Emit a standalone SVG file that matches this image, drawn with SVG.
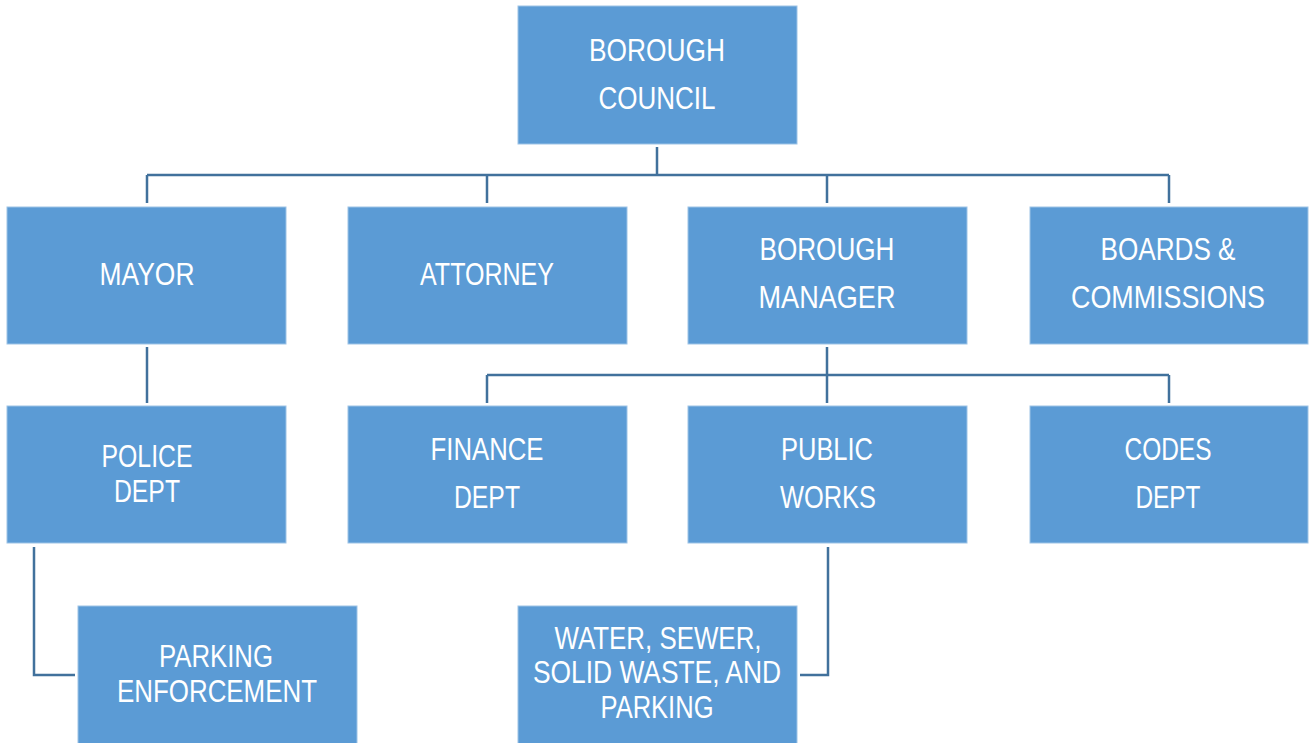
<svg xmlns="http://www.w3.org/2000/svg" width="1310" height="743" viewBox="0 0 1310 743">
<style>
.box{fill:#5B9BD5;stroke:#9DC3E6;stroke-width:1}
.t{font-family:"Liberation Sans",Arial,sans-serif;font-size:31px;fill:#FFFFFF;text-anchor:middle}
.c{fill:none;stroke:#41719C;stroke-width:2.5}
</style>
<rect width="1310" height="743" fill="#FFFFFF"/>
<g id="connectors">
<path class="c" d="M657,147V175M147,175H1169M147,175V203M487,175V203M827,175V203M1169,175V203"/>
<path class="c" d="M147,347V403"/>
<path class="c" d="M827,347V375M487,375H1169M487,375V403M827,375V403M1169,375V403"/>
<path class="c" d="M34,547V675H75"/>
<path class="c" d="M828,547V675H800"/>
</g>
<g id="borough-council"><rect class="box" x="518" y="6" width="279" height="138"/>
<text class="t" x="657" y="61" textLength="136" lengthAdjust="spacingAndGlyphs">BOROUGH</text>
<text class="t" x="657" y="109" textLength="117" lengthAdjust="spacingAndGlyphs">COUNCIL</text></g>
<g id="mayor"><rect class="box" x="7" y="207" width="279" height="137"/>
<text class="t" x="147" y="285" textLength="95" lengthAdjust="spacingAndGlyphs">MAYOR</text></g>
<g id="attorney"><rect class="box" x="348" y="207" width="279" height="137"/>
<text class="t" x="487" y="285" textLength="134" lengthAdjust="spacingAndGlyphs">ATTORNEY</text></g>
<g id="borough-manager"><rect class="box" x="688" y="207" width="279" height="137"/>
<text class="t" x="827" y="260" textLength="135" lengthAdjust="spacingAndGlyphs">BOROUGH</text>
<text class="t" x="827" y="308" textLength="137" lengthAdjust="spacingAndGlyphs">MANAGER</text></g>
<g id="boards"><rect class="box" x="1030" y="207" width="278" height="137"/>
<text class="t" x="1168" y="260" textLength="135" lengthAdjust="spacingAndGlyphs">BOARDS &amp;</text>
<text class="t" x="1168" y="308" textLength="194" lengthAdjust="spacingAndGlyphs">COMMISSIONS</text></g>
<g id="police"><rect class="box" x="7" y="406" width="279" height="137"/>
<text class="t" x="147" y="467" textLength="91" lengthAdjust="spacingAndGlyphs">POLICE</text>
<text class="t" x="147" y="502" textLength="66" lengthAdjust="spacingAndGlyphs">DEPT</text></g>
<g id="finance"><rect class="box" x="348" y="406" width="279" height="137"/>
<text class="t" x="487" y="460" textLength="113" lengthAdjust="spacingAndGlyphs">FINANCE</text>
<text class="t" x="487" y="508" textLength="66" lengthAdjust="spacingAndGlyphs">DEPT</text></g>
<g id="public-works"><rect class="box" x="688" y="406" width="279" height="137"/>
<text class="t" x="827" y="460" textLength="92" lengthAdjust="spacingAndGlyphs">PUBLIC</text>
<text class="t" x="828" y="508" textLength="96" lengthAdjust="spacingAndGlyphs">WORKS</text></g>
<g id="codes"><rect class="box" x="1030" y="406" width="278" height="137"/>
<text class="t" x="1168" y="460" textLength="87" lengthAdjust="spacingAndGlyphs">CODES</text>
<text class="t" x="1168" y="508" textLength="65" lengthAdjust="spacingAndGlyphs">DEPT</text></g>
<g id="parking-enforcement"><rect class="box" x="78" y="606" width="279" height="140"/>
<text class="t" x="216" y="667" textLength="114" lengthAdjust="spacingAndGlyphs">PARKING</text>
<text class="t" x="217" y="702" textLength="200" lengthAdjust="spacingAndGlyphs">ENFORCEMENT</text></g>
<g id="water-sewer"><rect class="box" x="518" y="606" width="279" height="140"/>
<text class="t" x="658" y="649" textLength="207" lengthAdjust="spacingAndGlyphs">WATER, SEWER,</text>
<text class="t" x="657" y="683" textLength="248" lengthAdjust="spacingAndGlyphs">SOLID WASTE, AND</text>
<text class="t" x="657" y="718" textLength="113" lengthAdjust="spacingAndGlyphs">PARKING</text></g>
</svg>
